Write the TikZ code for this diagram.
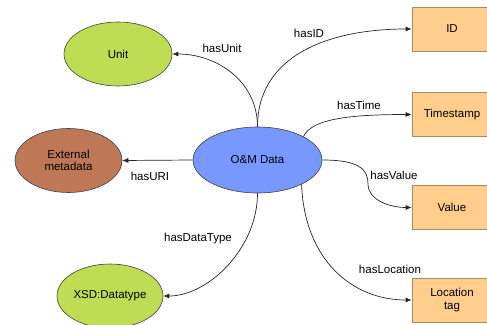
\documentclass[tikz,border=0pt]{standalone}
\usepackage{fontspec}
\setmainfont{Liberation Sans}
\usetikzlibrary{shapes.geometric,arrows.meta}
\definecolor{limeg}{RGB}{190,221,85}
\definecolor{brownn}{RGB}{190,120,85}
\definecolor{blueom}{RGB}{120,152,255}
\definecolor{orangeb}{RGB}{255,206,140}
\definecolor{orangeline}{RGB}{170,140,100}
\begin{document}
\begin{tikzpicture}[x=1pt,y=-1pt,
  every node/.style={font=\fontsize{11.5}{13.5}\selectfont, text=black},
  ell/.style={ellipse, draw=black!75, line width=0.6pt, inner sep=0pt},
  boxnode/.style={rectangle, draw=orangeline, fill=orangeb, line width=0.7pt, minimum width=80pt, minimum height=44pt, inner sep=0pt, align=center},
  conn/.style={draw=black!85, line width=0.7pt, -{Latex[length=6pt,width=5pt]}},
  lbl/.style={inner sep=0pt}]
\useasboundingbox (0,0) rectangle (487,324);
\node[ell, fill=limeg, minimum width=108pt, minimum height=64pt] (unit) at (118,54) {Unit};
\node[ell, fill=brownn, minimum width=107pt, minimum height=64pt, align=center] (ext) at (68.5,160.5) {External\\[-1pt]metadata};
\node[ell, fill=blueom, minimum width=129pt, minimum height=66pt] (om) at (257.5,160) {O\&M Data};
\node[ell, fill=limeg, minimum width=106pt, minimum height=64pt] (xsd) at (110,296) {XSD:Datatype};
\node[boxnode] (id) at (452,29) {ID};
\node[boxnode] (ts) at (452,114.5) {Timestamp};
\node[boxnode] (val) at (452,207.5) {Value};
\node[boxnode] (loc) at (452,300) {Location\\[-1pt]tag};

\draw[conn] (om.north) .. controls +(0,-45) and +(45,0) .. (unit.east);
\draw[conn] (om.north) .. controls +(0,-70) and +(-85,0) .. (id.west);
\draw[conn] (om.27) .. controls +(8,-18) and +(-60,0) .. (ts.west);
\draw[conn] (om.west) -- (ext.east);
\draw[conn] (om.south) .. controls +(0,55) and +(45,0) .. (xsd.east);
\coordinate (vmid) at (368,184);
\draw[conn] (om.east) .. controls +(38,0) and +(0,-14) .. (vmid) .. controls +(0,16) and +(-22,0) .. (val.west);
\draw[conn] (om.-29) .. controls +(3,75) and +(-60,0) .. (loc.west);

\node[lbl] (l1) at (222,48) {hasUnit};
\node[lbl] (l2) at (309,33) {hasID};
\node[lbl] (l3) at (359,105) {hasTime};
\node[lbl] (l4) at (150,176) {hasURI};
\node[lbl] (l5) at (198,239) {hasDataType};
\node[lbl] (l6) at (394,175) {hasValue};
\node[lbl] (l7) at (390,269) {hasLocation};
\end{tikzpicture}
\end{document}
